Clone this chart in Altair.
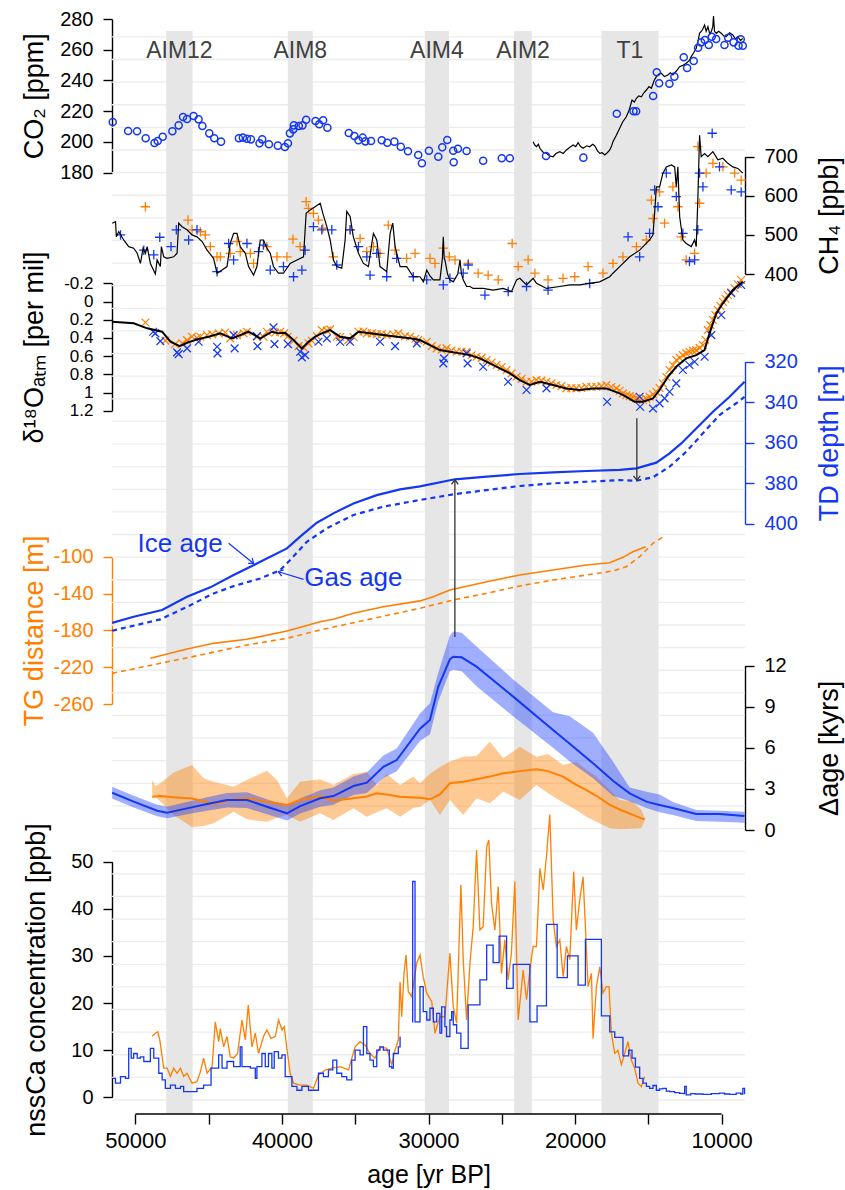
import altair as alt
import pandas as pd

FONT = "Liberation Sans"
BLUE = "#1438f0"
ORANGE = "#ff7f00"
BAND_GREY = "#e6e6e6"
GRID_GREY = "#ececec"
ARROW = "#333333"
W, H = 633, 1114

# ---------------- data ----------------
band_name = ["AIM12", "AIM8", "AIM4", "AIM2", "T1"]
band_start = [47900, 39600, 30250, 24150, 18200]
band_end = [46100, 37900, 28600, 22950, 14300]

x_ticks = [50000, 45000, 40000, 35000, 30000, 25000, 20000, 15000, 10000]

# CO2 (ppm): discrete measurements and high-resolution record
co2_points = [
    (51550, 213), (50500, 207.1), (49890, 207), (49300, 202.4), (48700, 199.3), (48480, 200.6),
    (48140, 203.4), (47480, 207), (47050, 210.8), (46750, 216.2), (46480, 214.9), (46030, 216.9),
    (45690, 214.7), (45430, 210.4), (44960, 205.6), (44620, 202.4), (44160, 200.2), (42940, 202.4),
    (42670, 202.8), (42390, 202.1), (42120, 201.7), (41530, 199.1), (41350, 201.7), (40890, 198.5),
    (40280, 197.6), (39800, 196.7), (39590, 199.1), (39460, 205.6), (39230, 208.2), (39190, 210.8),
    (38850, 210.4), (38600, 210.8), (38350, 214.5), (37710, 213.6), (37460, 211.5), (37190, 214.1),
    (36900, 209.3), (35440, 205.8), (35060, 203.9), (34780, 201.1), (34490, 202.8), (34310, 200.4),
    (33920, 200.6), (33190, 201.1), (32810, 199.5), (32330, 200.2), (31890, 196.9), (31400, 193.9),
    (30700, 191.5), (30450, 186.1), (29970, 194.3), (29330, 190.4), (29060, 196.5), (28720, 201.3),
    (28310, 194.3), (28280, 186.8), (27990, 195.6), (27400, 194.1), (26270, 187.8), (25000, 189.4),
    (24450, 189.4), (21980, 190.9), (19430, 189.8), (17150, 218.4), (16010, 220), (15830, 220),
    (14670, 229.9), (14420, 245.3), (14260, 238.2), (13560, 237.9), (13220, 242.5), (12580, 255.1),
    (12350, 248.1), (11900, 252.7), (11600, 261.3), (11390, 264.8), (11140, 266.3), (10870, 263.1),
    (10670, 268.5), (10370, 267), (9800, 263.1), (9550, 267.8), (9180, 264.8), (8840, 262.6),
    (8690, 266.8), (8550, 262.6),
]
co2_record = [
    (22860, 200.2), (22750, 198), (22630, 196.9), (22500, 198.5), (22400, 195.9), (22200, 193.5),
    (21950, 192.6), (21750, 191), (21500, 190.4), (21300, 192.5), (21040, 193.7), (20800, 192.5),
    (20590, 194.8), (20350, 196.5), (20130, 198), (19950, 197), (19790, 199.5), (19620, 197),
    (19450, 195.9), (19200, 197.5), (19000, 196.9), (18800, 198.5), (18660, 197.6), (18450, 194),
    (18310, 192.6), (18150, 193), (17970, 191.5), (17800, 193), (17630, 194.8), (17500, 197.5),
    (17410, 200.2), (17200, 204), (16950, 208.9), (16750, 213), (16500, 216.4), (16300, 221),
    (16110, 227.3), (15950, 226), (15810, 228.4), (15650, 230), (15470, 229.4), (15300, 232),
    (15130, 233.8), (14950, 236), (14790, 234.9), (14600, 240), (14450, 242.5), (14300, 244),
    (14110, 244.7), (13900, 242.5), (13660, 243.6), (13500, 245), (13320, 243.6), (13100, 246),
    (12860, 249), (12600, 250), (12410, 251.2), (12200, 253), (12070, 255.5), (11900, 258),
    (11730, 260.9), (11600, 266), (11500, 270.7), (11300, 273), (11160, 276.1), (11050, 272),
    (10930, 275), (10800, 270), (10700, 271.8), (10600, 275), (10550, 281.9), (10480, 272),
    (10360, 270.7), (10200, 272), (10020, 270.7), (9850, 269), (9680, 268.5), (9450, 271),
    (9230, 269.6), (9050, 267), (8890, 268.5), (8700, 266), (8550, 267.4),
]

# CH4 (ppb)
ch4_record = [
    (51590, 530), (51360, 534), (51300, 495), (51140, 508), (50800, 487), (50460, 470), (50120, 466),
    (49880, 453), (49660, 427), (49480, 466), (49320, 453), (49200, 470), (48980, 427), (48640, 400),
    (48520, 436), (48300, 419), (48230, 470), (48070, 444), (47840, 440), (47390, 444), (47160, 453),
    (47050, 530), (46820, 521), (46480, 513), (46140, 500), (45800, 495), (45450, 483), (45110, 461),
    (44670, 440), (44430, 402), (44090, 410), (43750, 419), (43530, 478), (43300, 504), (43070, 504),
    (42850, 470), (42500, 453), (42280, 419), (41940, 397), (41710, 419), (41480, 487), (41260, 487),
    (41030, 466), (40800, 453), (40580, 419), (40240, 402), (39900, 402), (39440, 427), (38980, 436),
    (38530, 444), (38350, 555), (38080, 564), (37740, 572), (37390, 581), (37210, 555), (36940, 521),
    (36710, 487), (36490, 436), (36260, 419), (35920, 415), (35690, 487), (35580, 560), (35350, 547),
    (35130, 495), (34780, 453), (34440, 427), (34100, 419), (33870, 478), (33760, 504), (33530, 487),
    (33310, 419), (32850, 406), (32620, 504), (32440, 530), (32280, 470), (31940, 419), (31490, 419),
    (31040, 393), (30580, 393), (30350, 380), (30120, 410), (29900, 395), (29670, 385), (29220, 385),
    (29050, 440), (28990, 495), (28930, 440), (28880, 436), (28700, 400), (28540, 385), (28310, 380),
    (28000, 400), (27850, 436), (27750, 400), (27630, 385), (27400, 368), (27170, 368), (26950, 363),
    (26270, 363), (25590, 359), (24900, 363), (24330, 355), (23990, 385), (23770, 389), (23310, 372),
    (22860, 389), (22630, 376), (21950, 363), (21040, 368), (20360, 372), (19680, 372), (19000, 376),
    (18320, 380), (17630, 393), (17410, 402), (16950, 419), (16270, 444), (15590, 461), (14910, 487),
    (14680, 500), (14570, 555), (14450, 623), (14230, 623), (14000, 658), (13770, 674), (13430, 679),
    (13200, 674), (13090, 623), (12980, 674), (12860, 547), (12640, 487), (12410, 478), (12070, 470),
    (11840, 487), (11730, 470), (11620, 589), (11500, 755), (11390, 700), (11160, 708), (10940, 700),
    (10590, 713), (10250, 692), (9910, 696), (9570, 683), (9230, 674), (8890, 670), (8550, 658),
]
ch4_orange = [
    (49320, 572), (46410, 538), (46140, 513), (45570, 508), (45230, 500), (44890, 470), (44430, 444),
    (44210, 444), (43530, 453), (43070, 483), (42850, 457), (42160, 453), (41940, 427), (41030, 470),
    (40340, 444), (39660, 444), (39250, 489), (38760, 470), (38350, 585), (38190, 568), (37850, 555),
    (37510, 538), (37210, 517), (36490, 444), (35350, 513), (34670, 491), (34210, 457), (33760, 470),
    (33310, 453), (32740, 525), (32280, 461), (31490, 440), (30920, 453), (29900, 440), (29560, 427),
    (28990, 466), (28580, 444), (28190, 436), (27290, 427), (26610, 402), (25930, 397), (25240, 385),
    (24290, 478), (23880, 419), (23200, 436), (22740, 402), (21840, 385), (20820, 389), (20020, 393),
    (19110, 419), (18090, 402), (17410, 427), (16730, 444), (15810, 470), (15130, 487), (14790, 589),
    (14680, 542), (14230, 610), (13890, 530), (13320, 623), (12980, 572), (12750, 495), (12410, 436),
    (11840, 453), (11620, 726), (11500, 581), (11050, 658), (10590, 683), (9910, 674), (9110, 658),
    (8660, 640),
]
ch4_blue = [
    (51020, 500), (49430, 461), (48750, 449), (48340, 494), (47570, 470), (47210, 513), (46370, 487),
    (45800, 513), (44430, 406), (43640, 478), (43300, 436), (42390, 478), (41600, 457), (41260, 474),
    (40800, 410), (39900, 419), (39210, 393), (38640, 410), (38420, 461), (37850, 521), (37280, 513),
    (36600, 513), (36260, 423), (35350, 513), (34780, 470), (34210, 444), (33990, 397), (33530, 453),
    (32850, 393), (32170, 440), (31040, 393), (30120, 385), (28990, 372), (28540, 389), (27630, 402),
    (27290, 423), (26150, 346), (24560, 355), (23310, 368), (21840, 359), (19000, 376), (16380, 495),
    (15590, 444), (14910, 504), (14570, 615), (14340, 572), (13770, 658), (13090, 598), (12640, 504),
    (12190, 432), (11840, 436), (11620, 513), (11500, 658), (11270, 623), (10640, 760), (10140, 674),
    (9340, 615), (8660, 610),
]

# d18O of atmospheric O2 (per mil)
d18o_record = [
    (51590, 0.222), (50120, 0.24), (49200, 0.295), (48180, 0.332), (47610, 0.442), (46980, 0.49),
    (46480, 0.453), (45800, 0.416), (45010, 0.387), (44210, 0.35), (43410, 0.405), (42850, 0.369),
    (42280, 0.332), (41480, 0.405), (40690, 0.332), (40230, 0.35), (39780, 0.343), (39210, 0.424),
    (38640, 0.515), (38190, 0.442), (37740, 0.387), (37280, 0.35), (36710, 0.314), (36030, 0.387),
    (35350, 0.405), (34780, 0.332), (33990, 0.35), (33080, 0.369), (32170, 0.387), (31260, 0.405),
    (30580, 0.424), (29900, 0.479), (29220, 0.534), (28540, 0.552), (27850, 0.57), (27170, 0.589),
    (26490, 0.625), (25810, 0.68), (25130, 0.735), (24450, 0.79), (23770, 0.864), (23080, 0.918),
    (22400, 0.882), (21500, 0.918), (20590, 0.955), (19680, 0.973), (18770, 0.955), (17860, 0.955),
    (16950, 1.01), (16500, 1.047), (15930, 1.102), (15360, 1.102), (14680, 1.065), (14230, 0.973),
    (13660, 0.827), (13090, 0.717), (12410, 0.625), (11730, 0.589), (11160, 0.534), (10820, 0.35),
    (10360, 0.13), (9910, 0.02), (9230, -0.126), (8550, -0.218),
]
d18o_orange = [
    (49320, 0.23), (47950, 0.43), (47300, 0.47), (46800, 0.46), (46480, 0.424), (46140, 0.387),
    (45800, 0.4), (45570, 0.387), (45110, 0.37), (44770, 0.36), (44320, 0.35), (43870, 0.34),
    (43530, 0.405), (43070, 0.37), (42620, 0.35), (42390, 0.332), (41710, 0.39), (41260, 0.387),
    (41030, 0.332), (40460, 0.34), (40120, 0.332), (39850, 0.35), (39620, 0.387), (39210, 0.43),
    (38870, 0.49), (38530, 0.504), (38190, 0.46), (37960, 0.431), (37620, 0.38), (37280, 0.314),
    (36940, 0.32), (36710, 0.306), (36260, 0.387), (36030, 0.39), (35470, 0.424), (35120, 0.39),
    (34780, 0.332), (34440, 0.33), (34210, 0.35), (33870, 0.35), (33530, 0.358), (33190, 0.36),
    (32850, 0.369), (32400, 0.36), (32060, 0.35), (31600, 0.38), (31260, 0.387), (30900, 0.41),
    (30700, 0.424), (30120, 0.442), (29780, 0.49), (29440, 0.515), (29100, 0.53), (28770, 0.515),
    (28430, 0.54), (28080, 0.552), (27740, 0.55), (27400, 0.552), (27060, 0.59), (26720, 0.607),
    (26380, 0.62), (26030, 0.643), (25690, 0.67), (25350, 0.698), (25010, 0.72), (24670, 0.753),
    (24330, 0.79), (23990, 0.827), (23650, 0.85), (23310, 0.882), (22970, 0.88), (22630, 0.864),
    (22290, 0.87), (21950, 0.882), (21610, 0.9), (21270, 0.918), (20930, 0.93), (20590, 0.955),
    (20250, 0.95), (19910, 0.955), (19570, 0.95), (19230, 0.937), (18880, 0.94), (18540, 0.937),
    (18200, 0.93), (17860, 0.918), (17520, 0.94), (17180, 0.955), (16950, 0.98), (16730, 1.01),
    (16500, 1.03), (16270, 1.04), (16040, 1.05), (15810, 1.065), (15590, 1.08), (15360, 1.083),
    (15130, 1.07), (14910, 1.047), (14680, 1.02), (14450, 0.992), (14230, 0.95), (14000, 0.9),
    (13770, 0.83), (13550, 0.753), (13320, 0.7), (13090, 0.643), (12860, 0.62), (12640, 0.589),
    (12410, 0.57), (12190, 0.552), (11960, 0.54), (11730, 0.534), (11500, 0.51), (11270, 0.479),
    (11100, 0.42), (10940, 0.314), (10760, 0.26), (10590, 0.204), (10420, 0.15), (10250, 0.094),
    (10080, 0.05), (9910, 0.002), (9740, -0.03), (9570, -0.071), (9340, -0.1), (9110, -0.145),
    (8890, -0.19), (8660, -0.236),
]
d18o_blue = [
    (48790, 0.332), (48640, 0.35), (48300, 0.435), (47160, 0.559), (47050, 0.578), (46480, 0.515),
    (45690, 0.442), (44430, 0.497), (44400, 0.57), (43300, 0.369), (43230, 0.515), (41710, 0.38),
    (41670, 0.49), (40580, 0.284), (40510, 0.468), (39590, 0.468), (38760, 0.552), (38640, 0.614),
    (38420, 0.589), (37510, 0.442), (36940, 0.405), (36030, 0.442), (35350, 0.442), (33310, 0.442),
    (32280, 0.49), (30800, 0.46), (28990, 0.68), (28940, 0.625), (27400, 0.57), (27330, 0.68),
    (26270, 0.717), (24570, 0.882), (23310, 0.973), (21950, 0.955), (17810, 1.102), (15590, 1.047),
    (15560, 1.157), (14680, 1.175), (14230, 1.12), (13890, 1.065), (13550, 0.992), (13090, 0.9),
    (12640, 0.753), (12190, 0.698), (11840, 0.662), (11160, 0.607), (10700, 0.369), (10020, 0.149),
    (9340, -0.09), (8660, -0.181),
]

# TD depth (m) of ice-age and gas-age horizons
td_ice = [
    (51590, 448.8), (50120, 445.8), (48180, 442.5), (46480, 435.9), (44890, 431.3), (43300, 425.2),
    (41480, 418.7), (39660, 412.1), (38760, 406.3), (37620, 399.4), (36490, 394.8), (35120, 389.9),
    (33530, 385.8), (31940, 383), (30580, 381.5), (28200, 378), (26030, 376.7), (23770, 375.4),
    (21500, 374.6), (19220, 373.9), (16950, 373.4), (15810, 372.6), (14450, 369.8), (13550, 365.2),
    (12750, 360.3), (11730, 352.9), (10590, 344.7), (9450, 337.3), (8430, 329.9),
]
td_gas = [
    (51590, 452.7), (48300, 447.1), (46480, 440.9), (44670, 434.3), (43300, 430.7), (41480, 426.9),
    (40120, 422.8), (39440, 417.8), (38300, 408.8), (36940, 402.2), (35120, 395.6), (33080, 391.5),
    (30580, 388.2), (28200, 385.3), (26030, 383.3), (23770, 381.3), (21500, 380), (19220, 379.2),
    (16950, 378.4), (15810, 378.7), (14680, 377), (13550, 371.8), (12410, 364.4), (11270, 355.3),
    (10140, 346.3), (9000, 340.5), (8430, 337.3),
]

# TG distance (m)
tg_ice = [
    (48980, -210.4), (46480, -200.3), (44670, -194.1), (42390, -189.7), (39660, -180.7),
    (37390, -170.6), (36490, -168), (35120, -161.5), (33080, -154.3), (30580, -148),
    (29670, -143.5), (28540, -136.2), (26030, -127.2), (23770, -119.9), (21500, -114.4),
    (19220, -109), (17630, -106.5), (16730, -100.7), (16050, -94.6), (15180, -89.1),
]
tg_gas = [
    (51590, -226.7), (48300, -215.8), (45570, -206.8), (42390, -195.9), (39660, -188.6),
    (37390, -179.6), (35120, -171.7), (30580, -156), (28310, -147), (26030, -139.8),
    (23770, -131.8), (21500, -125.3), (19220, -119.9), (17410, -115.5), (16500, -110.9),
    (15590, -100), (14680, -85.4), (13890, -77.5),
]

# Delta age (kyrs): age, central value, lower, upper
dage_td = [
    (51590, 2.72, 2.3, 3.15), (50120, 2.07, 1.65, 2.5), (48520, 1.41, 1.0, 1.85),
    (47840, 1.26, 0.85, 1.7), (46480, 1.58, 1.15, 2.05), (45110, 1.9, 1.4, 2.4),
    (43750, 2.19, 1.65, 2.7), (42390, 2.19, 1.6, 2.75), (41030, 1.7, 1.15, 2.25),
    (39660, 1.22, 0.7, 1.75), (38760, 1.75, 1.2, 2.3), (37390, 2.32, 1.7, 2.9),
    (36490, 2.48, 1.85, 3.1), (35120, 3.21, 2.55, 3.9), (34210, 3.46, 2.7, 4.2),
    (33080, 4.62, 3.8, 5.45), (32170, 5.11, 4.3, 5.95), (30580, 7.4, 6.5, 8.5),
    (29900, 8.04, 7.0, 9.25), (29330, 10.47, 9.4, 11.5), (28540, 12.47, 11.6, 14.2),
    (28310, 12.66, 11.7, 14.5), (27740, 12.61, 11.6, 14.4), (26720, 11.93, 10.5, 13.4),
    (24220, 9.74, 8.3, 11.0), (21500, 7.3, 6.0, 8.6), (20360, 6.3, 5.0, 8.3),
    (18770, 4.87, 3.78, 7.1), (17410, 3.6, 2.5, 5.0), (16270, 2.68, 2.1, 3.1),
    (15130, 2.07, 1.6, 2.8), (14230, 1.83, 1.3, 2.6), (13320, 1.6, 1.1, 2.05),
    (11730, 1.17, 0.65, 1.46), (10140, 1.17, 0.6, 1.4), (8430, 1.02, 0.53, 1.34),
]
dage_tg = [
    (48860, 2.43, 2.56, 3.65), (48640, 2.45, 2.4, 3.21), (48300, 2.48, 2.1, 3.41),
    (47390, 2.4, 1.1, 4.2), (46140, 2.3, 0.2, 4.75), (45350, 2.1, 0.3, 3.78),
    (44670, 1.9, 0.49, 3.53), (43300, 2.24, 1.34, 3.16), (42390, 2.32, 0.78, 3.65),
    (41030, 2.07, 0.61, 4.33), (40340, 1.95, 0.9, 3.65), (39660, 1.83, 1.1, 2.32),
    (38760, 2.19, 0.61, 3.53), (37390, 2.48, 1.22, 3.7), (36490, 2.14, 0.73, 3.29),
    (35120, 2.32, 1.58, 4.09), (34210, 2.45, 0.97, 4.26), (33530, 2.68, 1.3, 3.29),
    (32850, 2.6, 1.58, 4.09), (31940, 2.43, 0.97, 3.29), (31040, 2.38, 1.6, 3.9),
    (30580, 2.36, 1.7, 3.41), (29900, 2.24, 2.19, 4.1), (29220, 2.6, 1.1, 4.6),
    (28540, 3.41, 2.19, 5.0), (27630, 3.53, 1.1, 5.35), (26720, 3.7, 2.32, 5.4),
    (25810, 3.9, 1.95, 6.45), (24900, 4.14, 2.8, 5.24), (23770, 4.3, 2.19, 6.08),
    (22630, 4.43, 3.29, 5.35), (21840, 4.3, 2.68, 5.55), (20820, 3.9, 2.0, 4.75),
    (19910, 3.3, 1.46, 4.99), (19220, 2.92, 0.97, 4.4), (18540, 2.5, 0.6, 3.9),
    (17630, 1.83, 0.12, 2.9), (16950, 1.5, 0.05, 2.19), (16050, 1.1, 0.1, 2.07),
    (15470, 0.85, 0.12, 1.46), (15250, 0.78, 0.7, 0.9),
]

# nssCa concentration (ppb)
nssca_tg = [
    (48860, 13.0), (48640, 13.6), (48480, 13.9), (48340, 12.2), (48070, 6.2), (47840, 6.2),
    (47610, 4.4), (47390, 6.2), (47160, 5.1), (46930, 6.2), (46710, 4.4), (46480, 5.1),
    (46140, 3.0), (45800, 3.3), (45570, 5.4), (45350, 8.3), (45110, 5.1), (44770, 6.5),
    (44550, 16.0), (44320, 11.8), (44210, 14.6), (43980, 10.7), (43750, 12.9), (43530, 8.6),
    (43300, 8.3), (43030, 9.3), (42730, 16.4), (42500, 12.2), (42300, 19.6), (42050, 10.7),
    (41820, 13.6), (41600, 9.3), (41260, 12.9), (41030, 14.3), (40750, 12.5), (40460, 12.9),
    (40230, 16.4), (40000, 14.3), (39850, 15.0), (39620, 9.3), (39440, 5.1), (39210, 3.0),
    (38760, 2.6), (38300, 2.6), (37850, 1.9), (37510, 4.7), (37050, 5.8), (36600, 6.2),
    (36030, 6.5), (35460, 5.8), (35010, 10.7), (34670, 11.8), (34330, 11.1), (33990, 9.3),
    (33650, 8.3), (33310, 10.7), (32850, 10.4), (32510, 6.9), (32280, 10.0), (32060, 12.2),
    (31940, 24.5), (31830, 17.1), (31670, 26.3), (31530, 30.2), (31380, 22.4), (31150, 21.4),
    (30800, 28.5), (30580, 30.2), (30360, 25.6), (30120, 22.1), (29780, 20.3), (29560, 13.6),
    (29220, 17.1), (28880, 17.1), (28540, 30.6), (28310, 19.2), (28080, 15.7), (27790, 45.1),
    (27630, 29.2), (27400, 16.4), (27170, 28.5), (26950, 36.2), (26720, 52.5), (26490, 35.5),
    (26270, 36.2), (26030, 53.2), (25880, 54.6), (25700, 41.2), (25470, 35.5), (25240, 44.7),
    (25020, 26.3), (24790, 33.4), (24570, 24.9), (24340, 30.6), (24110, 45.8), (23880, 16.4),
    (23540, 27.0), (23310, 20.7), (23080, 27.0), (22860, 32.0), (22630, 32.0), (22400, 48.6),
    (22170, 44.0), (21950, 51.1), (21720, 60.0), (21600, 48.3), (21490, 37.6), (21270, 32.0),
    (21040, 33.4), (20810, 25.6), (20590, 32.0), (20360, 29.2), (20090, 47.9), (19910, 35.5),
    (19680, 41.9), (19450, 46.8), (19270, 34.8), (19110, 23.5), (18880, 26.3), (18770, 12.5),
    (18540, 23.5), (18310, 27.7), (18090, 22.1), (17860, 23.5), (17680, 23.5), (17520, 13.6),
    (17290, 9.3), (17070, 10.0), (16840, 6.9), (16610, 9.3), (16390, 11.8), (16160, 7.9),
    (15930, 6.2), (15700, 3.0), (15470, 2.3), (15250, 4.4),
]
# step record; each value holds from its age back to the next older age
nssca_td_young = [
    (8430, 0.64), (8550, 1.9), (8690, 0.7), (9000, 0.9), (9450, 0.64), (9800, 0.7), (10140, 0.9),
    (10700, 0.8), (11270, 0.64), (11800, 0.7), (12100, 0.8), (12410, 0.5), (12520, 2.3),
    (12600, 0.8), (12860, 0.85), (13200, 1.0), (13550, 1.2), (13770, 1.3), (14000, 1.9),
    (14230, 1.8), (14450, 1.5), (14680, 2.5), (14910, 1.9), (15130, 2.3), (15360, 3.0),
    (15590, 4.0), (15880, 6.4), (16110, 8.3), (16340, 10.0), (16730, 8.8), (17290, 12.7),
    (17630, 13.9), (18200, 17.3), (19290, 33.5), (19790, 23.8), (20520, 30.0), (21220, 25.4),
    (21950, 36.7), (22590, 19.4), (23080, 16.0), (24220, 28.2), (24670, 23.1), (25180, 34.2),
    (25590, 28.6), (26030, 32.3), (26490, 24.9), (27290, 19.6), (27790, 10.4), (28080, 13.6),
    (28310, 15.4), (28420, 18.2), (28540, 16.4), (28770, 12.9), (28880, 15.0), (29100, 19.2),
    (29220, 13.6), (29440, 17.8), (29670, 16.0), (29900, 18.9), (30120, 16.4), (30360, 18.2),
    (30580, 23.5), (30920, 16.0), (31080, 45.8), (31120, 16.0),
]
nssca_td_old = [
    (31940, 12.9), (32060, 10.7), (32400, 9.3), (32510, 6.2), (32670, 6.5), (32850, 10.0),
    (33080, 10.0), (33310, 10.7), (33530, 10.0), (33760, 6.5), (33990, 7.9), (34210, 9.3),
    (34440, 15.0), (34670, 9.0), (35010, 10.0), (35240, 7.9), (35580, 3.7), (35920, 4.4),
    (36260, 5.1), (36530, 7.9), (36830, 5.8), (37170, 4.4), (37510, 5.1), (37850, 1.5),
    (38190, 1.5), (38640, 2.3), (38980, 1.5), (39320, 2.3), (39550, 4.4), (39780, 4.4),
    (40000, 9.0), (40240, 8.3), (40530, 9.7), (40690, 6.2), (40920, 9.3), (41140, 6.5),
    (41370, 9.3), (41710, 6.5), (41820, 4.0), (42160, 6.2), (42390, 6.5), (42730, 6.5),
    (42850, 10.7), (43300, 6.5), (43750, 7.6), (44090, 6.2), (44320, 9.0), (44550, 6.2),
    (44840, 6.2), (45010, 2.6), (45350, 2.6), (45800, 1.9), (46250, 1.2), (46710, 1.2),
    (46930, 2.3), (47270, 1.9), (47610, 2.6), (47960, 1.9), (48180, 3.7), (48410, 5.1),
    (48750, 8.3), (48980, 10.4), (49090, 7.6), (49430, 7.6), (49660, 8.6), (49880, 8.3),
    (50120, 9.3), (50290, 8.3), (50460, 10.4), (50680, 4.0), (51020, 4.4), (51360, 3.0),
    (51570, 4.0),
]

# tie-point arrows (TD depth, m): age, start depth, end depth, head angle
tie_age = [28200, 15780]
tie_from = [455.8, 347.9]
tie_to = [378.3, 378.5]
tie_angle = [0, 180]

# curve labels with pointers (TD depth, m)
curve_label = ["Ice age", "Gas age"]
curve_label_age = [46950, 38480]
curve_label_depth = [413.7, 430.7]
curve_label_align = ["center", "left"]
pointer_age0 = [43640, 38530]
pointer_depth0 = [409.6, 427.4]
pointer_age1 = [41940, 40240]
pointer_depth1 = [419.5, 423.6]
pointer_angle = [128.7, 286.9]

# ---------------- helpers ----------------
def df(rows, cols):
    return pd.DataFrame(rows, columns=cols)

MINUS = "replace(format(datum.value, '~g'), '\u2212', '-')"

xscale = alt.Scale(domain=[8400, 51600], reverse=True, nice=False, zero=False)
xaxis = alt.Axis(
    orient="bottom", values=x_ticks, domain=False, grid=False, tickSize=10, tickWidth=1.4,
    tickColor="black", labelFontSize=22, labelPadding=6, labelColor="black",
    labelExpr="datum.value % 10000 == 0 ? format(datum.value, 'd') : ''",
    title="age [yr BP]", titleFontSize=25, titleY=68, titleBaseline="alphabetic",
    labelFlush=False,
)


def X(field="age"):
    return alt.X(f"{field}:Q", scale=xscale, axis=xaxis, title="age [yr BP]")


def Y(field, domain, rng, axis=None):
    return alt.Y(f"{field}:Q", scale=alt.Scale(domain=domain, range=rng, nice=False, zero=False),
                 axis=axis, title=None)


def yaxis(orient, title, values, color="black", tx=None, expr=None, label_size=None):
    kw = dict(
        orient=orient, title=title, values=values, domainColor=color, tickColor=color,
        labelColor=color, titleColor=color, titleAngle=270, titleBaseline="alphabetic",
        titleX=tx if tx is not None else (-70 if orient == "left" else 92),
        labelPadding=10, tickSize=9, grid=False,
    )
    if expr:
        kw["labelExpr"] = expr
    if label_size:
        kw["labelFontSize"] = label_size
    return alt.Axis(**kw)


# panel geometry (domain, pixel range)
CO2 = ([180, 280], [172.7, 19.0])
CH4 = ([400, 700], [274.0, 156.7])
D18 = ([-0.2, 1.2], [283.3, 410.7])
TD = ([320, 400], [361.7, 523.9])
TG = ([-260, -100], [704.0, 556.7])
DA = ([0, 12], [830.0, 665.7])
CA = ([0, 50], [1097.3, 861.7])

PLUS = "M-1,0L1,0M0,-1L0,1"
CROSS = "M-1,-1L1,1M1,-1L-1,1"
CHEVRON = "M-1,1.3L0,0L1,1.3"

layers = []

# background grid
layers.append(
    alt.Chart(pd.DataFrame({"k": list(range(48))})).mark_rule(color=GRID_GREY, strokeWidth=1.3)
    .encode(x=alt.value(0), x2=alt.value(W),
            y=alt.Y("k:Q", scale=alt.Scale(domain=[0, 47], range=[1100, 36.9]), axis=None))
)

# shaded intervals and their names
bands = pd.DataFrame({"name": band_name, "start": band_start, "end": band_end})
layers.append(
    alt.Chart(bands).mark_rect(color=BAND_GREY)
    .encode(x=X("start"), x2="end:Q", y=alt.value(31), y2=alt.value(H))
)
layers.append(
    alt.Chart(bands).transform_calculate(mid="(datum.start + datum.end) / 2")
    .mark_text(fontSize=23, color="#404040", baseline="alphabetic", align="center")
    .encode(x=X("mid"), y=alt.value(58), text="name:N")
)

# x axis line between the outer ticks
layers.append(
    alt.Chart(pd.DataFrame({"age": [x_ticks[0]], "age2": [x_ticks[-1]]}))
    .mark_rule(color="black", strokeWidth=1.4)
    .encode(x=X("age"), x2="age2:Q", y=alt.value(H))
)

# CO2
layers.append(
    alt.Chart(df(co2_record, ["age", "v"])).mark_line(color="black", strokeWidth=1.2)
    .encode(x=X(), y=Y("v", *CO2))
)
layers.append(
    alt.Chart(df(co2_points, ["age", "v"]))
    .mark_point(shape="circle", filled=False, size=50, strokeWidth=1.5, color=BLUE, opacity=1)
    .encode(x=X(), y=Y("v", *CO2, axis=yaxis("left", "CO\u2082 [ppm]", [180, 200, 220, 240, 260, 280])))
)

# CH4
layers.append(
    alt.Chart(df(ch4_orange, ["age", "v"]))
    .mark_point(shape=PLUS, filled=False, size=90, strokeWidth=1.3, color=ORANGE, opacity=1)
    .encode(x=X(), y=Y("v", *CH4))
)
layers.append(
    alt.Chart(df(ch4_blue, ["age", "v"]))
    .mark_point(shape=PLUS, filled=False, size=90, strokeWidth=1.3, color=BLUE, opacity=1)
    .encode(x=X(), y=Y("v", *CH4))
)
layers.append(
    alt.Chart(df(ch4_record, ["age", "v"])).mark_line(color="black", strokeWidth=1.2)
    .encode(x=X(), y=Y("v", *CH4, axis=yaxis("right", "CH\u2084 [ppb]", [400, 500, 600, 700])))
)

# d18O atm
layers.append(
    alt.Chart(df(d18o_orange, ["age", "v"]))
    .mark_point(shape=CROSS, filled=False, size=60, strokeWidth=1.2, color=ORANGE, opacity=1)
    .encode(x=X(), y=Y("v", *D18))
)
layers.append(
    alt.Chart(df(d18o_blue, ["age", "v"]))
    .mark_point(shape=CROSS, filled=False, size=60, strokeWidth=1.2, color=BLUE, opacity=1)
    .encode(x=X(), y=Y("v", *D18))
)
layers.append(
    alt.Chart(df(d18o_record, ["age", "v"])).mark_line(color="black", strokeWidth=2)
    .encode(x=X(), y=Y("v", *D18, axis=yaxis(
        "left", "\u03b4\u00b9\u2078O\u2090\u209c\u2098 [per mil]",
        [-0.2, 0, 0.2, 0.4, 0.6, 0.8, 1, 1.2], expr=MINUS, label_size=17)))
)

# TD depth
layers.append(
    alt.Chart(df(td_ice, ["age", "v"])).mark_line(color=BLUE, strokeWidth=2.2)
    .encode(x=X(), y=Y("v", *TD, axis=yaxis("right", "TD depth [m]", [320, 340, 360, 380, 400], color=BLUE)))
)
layers.append(
    alt.Chart(df(td_gas, ["age", "v"])).mark_line(color=BLUE, strokeWidth=2.2, strokeDash=[5, 4])
    .encode(x=X(), y=Y("v", *TD))
)

# TG distance
layers.append(
    alt.Chart(df(tg_ice, ["age", "v"])).mark_line(color=ORANGE, strokeWidth=1.6)
    .encode(x=X(), y=Y("v", *TG, axis=yaxis("left", "TG distance [m]", [-260, -220, -180, -140, -100],
                                              color=ORANGE, expr=MINUS)))
)
layers.append(
    alt.Chart(df(tg_gas, ["age", "v"])).mark_line(color=ORANGE, strokeWidth=1.6, strokeDash=[5, 4])
    .encode(x=X(), y=Y("v", *TG))
)

# Delta age
dtg = df(dage_tg, ["age", "mid", "lo", "hi"])
dtd = df(dage_td, ["age", "mid", "lo", "hi"])
layers.append(
    alt.Chart(dtg).mark_area(color=ORANGE, opacity=0.42)
    .encode(x=X(), y=Y("lo", *DA), y2="hi:Q")
)
layers.append(
    alt.Chart(dtd).mark_area(color="#2a4bff", opacity=0.45)
    .encode(x=X(), y=Y("lo", *DA), y2="hi:Q")
)
layers.append(
    alt.Chart(dtg).mark_line(color=ORANGE, strokeWidth=2)
    .encode(x=X(), y=Y("mid", *DA))
)
layers.append(
    alt.Chart(dtd).mark_line(color=BLUE, strokeWidth=2)
    .encode(x=X(), y=Y("mid", *DA, axis=yaxis("right", "\u0394age [kyrs]", [0, 3, 6, 9, 12])))
)

# tie-point arrows
ties = pd.DataFrame({"age": tie_age, "d0": tie_from, "d1": tie_to, "ang": tie_angle})
layers.append(
    alt.Chart(ties).mark_rule(color=ARROW, strokeWidth=1.3)
    .encode(x=X(), y=Y("d0", *TD), y2="d1:Q")
)
layers.append(
    alt.Chart(ties).mark_point(shape=CHEVRON, filled=False, size=45, strokeWidth=1.3, color=ARROW, opacity=1)
    .encode(x=X(), y=Y("d1", *TD), angle=alt.Angle("ang:Q", scale=None))
)

# curve labels with pointers
labels = pd.DataFrame({"text": curve_label, "age": curve_label_age, "d": curve_label_depth,
                       "align": curve_label_align})
for i in range(len(curve_label)):
    layers.append(
        alt.Chart(labels.iloc[[i]]).mark_text(fontSize=26, color=BLUE, baseline="alphabetic",
                                              align=curve_label_align[i])
        .encode(x=X(), y=Y("d", *TD), text="text:N")
    )
pointers = pd.DataFrame({"age": pointer_age0, "d0": pointer_depth0, "age1": pointer_age1,
                         "d1": pointer_depth1, "ang": pointer_angle})
layers.append(
    alt.Chart(pointers).mark_rule(color=BLUE, strokeWidth=1.3)
    .encode(x=X(), x2="age1:Q", y=Y("d0", *TD), y2="d1:Q")
)
layers.append(
    alt.Chart(pointers).mark_point(shape=CHEVRON, filled=False, size=45, strokeWidth=1.3, color=BLUE, opacity=1)
    .encode(x=X("age1"), y=Y("d1", *TD), angle=alt.Angle("ang:Q", scale=None))
)

# nssCa
layers.append(
    alt.Chart(df(nssca_tg, ["age", "v"])).mark_line(color=ORANGE, strokeWidth=1.3)
    .encode(x=X(), y=Y("v", *CA, axis=yaxis("left", "nssCa concentration [ppb]",
                                             [0, 10, 20, 30, 40, 50], tx=-68)))
)
blue_ca = pd.concat([df(nssca_td_young, ["age", "v"]).assign(seg="a"),
                     df(nssca_td_old, ["age", "v"]).assign(seg="b")])
layers.append(
    alt.Chart(blue_ca).mark_line(color=BLUE, strokeWidth=1.3, interpolate="step-after")
    .encode(x=X(), y=Y("v", *CA), detail="seg:N")
)

chart = (
    alt.layer(*layers)
    .resolve_scale(y="independent")
    .properties(width=W, height=H, autosize=alt.AutoSizeParams(type="none"),
                padding={"left": 112, "right": 100, "top": 0, "bottom": 76})
    .configure_view(stroke=None)
    .configure_axis(labelFont=FONT, titleFont=FONT, labelFontSize=20, titleFontSize=27,
                    titleFontWeight="normal", tickWidth=1.4, domainWidth=1.4,
                    labelOverlap=False, labelFlush=False, labelBound=False)
    .configure_text(font=FONT)
)

chart.save("out.html", embed_options={"renderer": "svg", "actions": False})
